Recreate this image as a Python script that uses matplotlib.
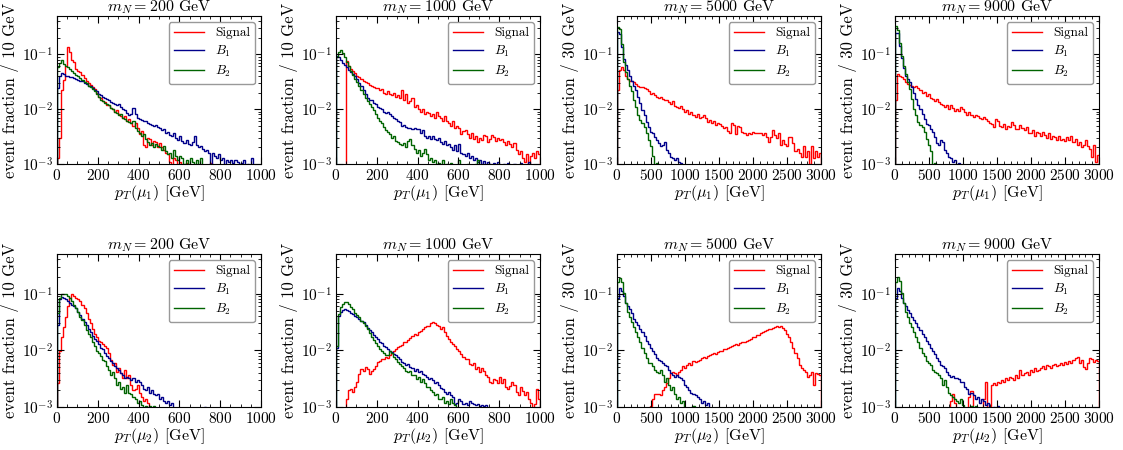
import numpy as np
import matplotlib.pyplot as plt
from matplotlib.ticker import AutoMinorLocator

# values are event fractions in units of 1e-3, one entry per bin
# (10 GeV bins for m_N = 200/1000, 30 GeV bins for m_N = 5000/9000)

# ---- leading muon pT ----
sig_pt1_200 = [1.3, 3, 22, 34, 60, 136, 110, 78, 73, 55,
               50, 48, 42, 37, 32, 30, 28, 25, 23, 20,
               17, 16, 14, 13.5, 12, 12, 10.5, 10, 9, 9.5,
               8, 7.5, 7, 7.5, 6, 6.5, 5.5, 5, 5.5, 4.5,
               3.5, 4, 2.2, 2.0, 3, 2.8, 2.2, 2.6, 2.5, 2.0,
               2.4, 2.0, 1.8, 1.6, 1.5, 1.1, 0.9, 1.3, 1.2, 0.8,
               1.1, 0.9, 0.8, 1.05, 0.7, 0.8, 0.6, 0.7, 0.5, 0.6,
               0.5, 0.6, 0.4, 0.5, 0.6, 1.05, 0.5, 0.4, 0.5, 0.3]
b1_pt1_200 = [24, 40, 45, 43, 41, 40, 39, 38, 37, 35,
              34, 33, 32, 30, 29, 27, 26, 24, 22, 21,
              19, 18, 17, 16, 15.5, 14.5, 13.5, 13, 12.5, 12,
              12.5, 11, 10, 9.5, 8.5, 7.8, 8, 10.5, 8, 7,
              6.5, 6.3, 6.2, 6, 5.7, 5.4, 5.2, 5.0, 5.1, 4.8,
              4.5, 4.2, 4.4, 3.6, 3.9, 3.4, 3.3, 3.6, 3.0, 2.7,
              3.2, 2.6, 2.4, 2.7, 2.3, 2.2, 2.5, 3.3, 2.2, 2.0,
              2.1, 1.9, 1.7, 1.8, 1.6, 0.9, 1.6, 1.4, 1.3, 1.5,
              1.2, 1.3, 0.9, 1.2, 1.1, 1.2, 1.05, 1.2, 1.1, 1.0,
              1.05, 1.2, 0.9, 1.0, 0.9, 1.3, 0.8]
b2_pt1_200 = [59, 70, 78, 68, 62, 58, 55, 50, 46, 42,
              40, 37, 34, 31, 30, 27, 25, 23, 21, 19,
              16.5, 15, 14, 13, 12.5, 12, 10.5, 10, 9, 8.5,
              7.8, 8, 7, 6.5, 6, 5.8, 5.5, 6, 4.5, 4,
              3.6, 3.2, 3.5, 2.8, 2.5, 2.2, 2.4, 2.0, 2.3, 2.1,
              2.0, 1.8, 2.1, 1.7, 1.5, 1.6, 1.3, 1.8, 1.4, 1.2,
              1.4, 1.3, 1.0, 1.2, 0.9, 1.3, 1.1, 0.9, 1.2, 0.9,
              1.3, 0.8]

sig_pt1_1000 = [0, 0, 0, 0, 0, 75, 62, 55, 50, 45,
                41, 38, 36, 33, 31, 30, 28, 26, 25, 24,
                24, 22, 23, 20, 19, 21, 19, 18, 20, 17,
                18, 16, 22, 15, 19, 13, 14, 16, 11, 12,
                10, 9, 10, 8, 9, 8.5, 7.5, 8, 7, 9,
                7.5, 7, 6, 7.5, 6, 5.5, 5, 6, 4.5, 5,
                4.5, 3.5, 4, 4.2, 3.5, 3, 3.6, 2.8, 3.2, 2.5,
                3, 2.7, 3.4, 3.3, 2.5, 2.8, 3.4, 3.1, 2.6, 3.0,
                2.7, 2.9, 2.5, 2.2, 2.6, 2.3, 2.0, 2.4, 1.8, 1.5,
                1.7, 1.3, 1.1, 1.5, 0.9, 1.4, 1.6, 1.3, 1.7, 1.5]
b1_pt1_1000 = [95, 90, 80, 70, 65, 58, 52, 47, 43, 40,
               35, 30, 26, 22, 19, 16, 15, 14.5, 13, 12.5,
               11, 10.5, 10, 9, 8.5, 8.8, 8, 7.5, 7, 6.5,
               6, 5.8, 5, 5.2, 4.8, 4.6, 4.5, 4.4, 4.5, 4.3,
               4.4, 3.7, 4.2, 3.3, 3, 3.2, 2.9, 3.3, 2.8, 2.7,
               3.0, 2.5, 2.3, 2.6, 2.2, 2.3, 2.0, 1.8, 2.2, 1.7,
               2.3, 1.6, 1.5, 1.4, 1.6, 1.3, 1.4, 1.2, 1.3, 1.1,
               1.2, 1.0, 1.15, 0.95, 1.1, 1.0, 0.9, 1.05, 0.9, 1.1,
               0.9, 0.8, 1.0, 0.8, 1.05, 0.9, 0.8, 1.0, 0.9, 0.85,
               1.05, 0.8, 0.9, 0.85, 1.1, 0.8]
b2_pt1_1000 = [90, 110, 120, 105, 90, 72, 60, 50, 42, 36,
               31, 26, 22, 19, 16, 14, 12.5, 11, 9.5, 8,
               7, 6, 5.5, 4.8, 4.2, 3.8, 3.5, 3.0, 3.2, 2.6,
               2.5, 2.3, 2.2, 2.4, 2.0, 2.6, 2.9, 2.2, 1.9, 1.6,
               1.8, 1.4, 1.6, 1.9, 1.5, 1.2, 1.3, 1.1, 1.2, 1.0,
               1.05, 0.9, 1.2, 0.9, 1.0, 0.85, 1.05, 0.9, 0.8, 0.9,
               1.2, 0.8, 0.9, 0.8, 1.0, 0.8, 0.85, 0.8, 1.0, 1.2,
               0.8]

sig_pt1_5000 = [22, 51, 59, 51, 41, 36, 33, 33, 31, 29,
                27, 25, 25, 24, 23, 21, 19.3, 19.8, 18, 16.7,
                16.3, 17, 15.6, 15, 14.5, 13.6, 12.3, 14.2, 11.3, 11,
                10.3, 11.3, 9.9, 8.9, 9.5, 8.3, 8.9, 7.8, 7.2, 8.3,
                6.8, 7.2, 7.8, 6.8, 5.9, 6.3, 5.5, 6.2, 5.1, 5.7,
                5.3, 4.9, 4.5, 4.8, 4.0, 3.7, 5.7, 5.1, 3.5, 5.0,
                4.8, 3.9, 3.6, 3.4, 3.7, 3.5, 3.9, 3.6, 3.6, 3.7,
                3.6, 3.4, 3.7, 3.1, 2.5, 3.1, 4.2, 3.4, 3.0, 3.6,
                2.2, 2.7, 2.3, 2.1, 3.1, 3.1, 2.4, 1.7, 1.85, 1.6,
                1.35, 2.1, 1.35, 1.7, 1.0, 2.1, 1.3, 1.7, 1.35, 1.6]
b1_pt1_5000 = [255, 238, 135, 83, 63, 51, 41, 33, 27, 22,
               16.7, 12.9, 9.6, 7.8, 5.9, 4.8, 3.9, 3.6, 3.1, 2.7,
               2.4, 2.1, 2.2, 2.5, 1.8, 1.6, 1.35, 1.27, 1.18, 1.27,
               1.1, 1.05, 0.8]
b2_pt1_5000 = [315, 290, 157, 73, 48, 36, 27, 21, 14.5, 11,
               7.8, 6.3, 5.5, 4.8, 3.6, 2.7, 2.1, 1.4, 0.8, 1.05,
               0.7]

sig_pt1_9000 = [15, 43, 40, 38, 35, 31, 29, 27.5, 26, 25,
                27, 24, 22, 20, 20.5, 17.7, 19, 15.8, 15.3, 14.3,
                15.3, 13.4, 12.5, 12, 10.9, 11.7, 10.2, 12, 10.5, 9.4,
                10.2, 9.2, 10.9, 10.2, 8.8, 7.9, 8.8, 7.7, 7.2, 7.7,
                7.5, 6.9, 6.5, 7.2, 6.7, 6.0, 5.6, 5.3, 4.7, 6.7,
                6.2, 5.0, 4.7, 5.3, 4.4, 5.0, 4.7, 5.8, 5.2, 4.4,
                4.3, 5.2, 4.5, 4.1, 4.7, 3.7, 3.6, 4.1, 3.3, 3.9,
                3.6, 3.2, 3.8, 3.4, 3.0, 3.7, 2.9, 3.3, 3.1, 2.7,
                3.3, 2.7, 2.9, 2.6, 3.1, 2.7, 3.3, 2.5, 2.9, 2.2,
                2.5, 2.0, 2.2, 2.7, 2.1, 1.9, 1.36, 2.2, 1.1, 1.45]
b1_pt1_9000 = [245, 245, 140, 87, 57, 40, 35, 31, 25, 20,
               15.5, 11.7, 10.2, 8.2, 6.7, 5.4, 5.1, 4.4, 3.8, 3.1,
               2.4, 2.2, 2.7, 2.5, 1.8, 1.6, 1.35, 1.27, 1.1, 1.18,
               0.8, 1.05, 0.8]
b2_pt1_9000 = [330, 280, 162, 93, 62, 44, 31, 23.5, 15.5, 10.2,
               7.7, 5.8, 5.1, 4.7, 3.8, 2.9, 2.2, 1.7, 0.8, 1.05,
               0.7]

# ---- subleading muon pT ----
sig_pt2_200 = [2.6, 9.7, 17, 26, 39, 60, 85, 98, 90, 85,
               79, 73, 64, 55, 45, 36, 30, 24, 19.5, 17,
               14.7, 13.8, 12.8, 12, 11, 9, 6.8, 5.5, 6, 4.2,
               4.8, 3.9, 3.2, 4.5, 3.2, 3.7, 2.4, 2.0, 2.1, 2.4,
               1.8, 1.5, 1.3, 1.4, 1.2, 0.9, 0.8, 0.7]
b1_pt2_200 = [28, 79, 88, 85, 79, 73, 68, 64, 60, 55,
              48, 42, 36, 32, 28, 24, 21, 18, 16, 14.7,
              12.8, 11, 10.5, 9, 7.9, 7.4, 6.4, 6, 5.2, 4.8,
              4.5, 3.9, 3.7, 3.2, 3.4, 3.2, 3.0, 3.2, 2.8, 3.0,
              2.8, 2.4, 2.1, 2.0, 2.25, 1.8, 2.0, 1.7, 1.6, 1.7,
              1.4, 1.5, 1.3, 1.2, 1.3, 1.1, 1.2, 0.9, 0.9, 0.8,
              0.7, 0.8, 0.7, 0.6, 0.7, 0.6, 0.5, 0.6, 0.5, 0.6,
              0.5, 0.6, 1.02, 0.5]
b2_pt2_200 = [45, 85, 98, 100, 98, 90, 85, 73, 64, 55,
              48, 39, 34, 28, 22.5, 19.5, 17, 13.8, 12, 9.7,
              9, 7.9, 6.8, 6.4, 5.2, 4.5, 3.7, 4.2, 3.2, 2.4,
              2.8, 2.1, 2.25, 1.8, 2.4, 1.8, 1.7, 1.5, 1.4, 1.2,
              1.3, 1.1, 0.9, 1.05, 0.8, 1.05, 0.8, 1.05, 0.7]

sig_pt2_1000 = [0, 0, 0, 0, 0, 1.4, 2.0, 2.1, 1.85, 2.25,
                2.75, 3.85, 4.7, 4.4, 5.0, 4.7, 3.85, 4.4, 4.7, 5.2,
                6.1, 6.6, 7.0, 6.9, 7.5, 7.2, 8.1, 9.0, 9.9, 10.6,
                11.3, 12.1, 12.3, 14.2, 13.8, 15.4, 16.2, 18.1, 19.4, 18.8,
                20.7, 22, 23.6, 25.3, 26.4, 27, 30, 31, 30, 28,
                27, 23.6, 25.3, 20.7, 18.1, 15.8, 14.2, 12.9, 12.1, 10.6,
                9.9, 8.6, 7.5, 7.0, 6.9, 5.8, 5.4, 6.0, 4.7, 5.0,
                4.1, 4.8, 4.4, 3.6, 3.35, 2.75, 2.6, 3.1, 3.0, 2.6,
                3.35, 2.6, 3.1, 2.25, 2.1, 2.35, 2.75, 2.4, 1.85, 1.6,
                2.25, 1.95, 1.6, 1.85, 1.4, 1.2, 0.9, 1.15, 2.1, 1.4]
b1_pt2_1000 = [11, 40, 48, 52, 53, 52, 49, 46, 43, 40,
               38, 35, 33, 31, 28, 25, 23, 21, 19, 17,
               15.8, 14.2, 13.4, 12.1, 11.3, 10.6, 9.9, 9.2, 8.6, 8.1,
               7.5, 6.9, 6.3, 6.0, 5.5, 5.7, 5.0, 4.9, 4.4, 4.7,
               4.1, 4.4, 3.85, 3.6, 3.35, 3.1, 3.2, 3.05, 2.6, 2.75,
               2.4, 2.15, 2.1, 1.85, 1.7, 1.85, 1.6, 1.5, 1.15, 1.2,
               1.4, 1.3, 1.15, 1.2, 1.07, 1.3, 1.2, 1.15, 1.1, 1.15,
               1.05, 1.1, 1.05, 1.07, 0.9, 0.8]
b2_pt2_1000 = [12, 43, 57, 65, 70, 71, 65, 59, 53, 46,
               42, 38, 33, 30, 26.5, 23.6, 20, 17, 15.4, 13.4,
               11.8, 10.6, 9.9, 9.0, 8.3, 8.1, 9.9, 9.0, 7.5, 6.9,
               6.3, 5.8, 5.2, 4.8, 4.4, 4.1, 4.4, 3.6, 3.7, 3.1,
               3.35, 2.75, 3.1, 2.6, 2.25, 2.25, 1.96, 1.85, 1.6, 1.7,
               1.4, 1.37, 1.5, 1.2, 1.3, 1.15, 1.4, 1.2, 1.07, 0.8]

sig_pt2_5000 = [0, 0, 0, 0, 0, 0, 0, 0, 0, 0,
                0, 0, 0, 0, 0, 0.8, 1.05, 1.4, 1.7, 1.7,
                1.7, 1.65, 2.0, 2.25, 2.6, 3.2, 3.9, 4.2, 3.9, 3.7,
                4.2, 4.5, 5.2, 4.8, 5.6, 6.0, 5.6, 6.4, 6.2, 6.6,
                6.8, 7.4, 7.6, 7.4, 7.9, 8.2, 8.5, 9.0, 8.7, 9.4,
                9.7, 9.9, 10.4, 10.7, 11, 11.4, 12, 12.4, 12.8, 12.4,
                13.2, 13.8, 14.2, 14.7, 15.2, 15.8, 17, 17.5, 19, 18.4,
                20, 21, 21.7, 22.5, 23.6, 24, 24.6, 26, 26.6, 26,
                26.5, 25.2, 22.5, 19.5, 17, 13.8, 11, 9, 7.4, 5.6,
                4.8, 4.5, 4.2, 3.4, 3.7, 4.2, 2.4, 4.0, 3.8, 3.7]
b1_pt2_5000 = [85, 128, 111, 90, 68, 60, 53, 45, 36, 32,
               28, 24, 21, 18, 14.7, 12.8, 11, 9.7, 8.5, 7.4,
               6.8, 6.4, 6, 5.6, 5.2, 4.5, 3.9, 3.7, 3.4, 3.7,
               3.4, 3.2, 3.0, 2.4, 2.25, 2.0, 1.8, 1.7, 1.6, 1.5,
               1.4, 1.2, 1.3, 1.1, 1.2, 0.9, 0.85]
b2_pt2_5000 = [158, 187, 158, 104, 68, 48, 39, 32, 26, 21,
               17, 13.8, 11, 9, 7.4, 6.0, 6.0, 5.2, 4.5, 4.2,
               3.9, 4.5, 3.7, 2.8, 3.2, 2.4, 2.0, 2.25, 1.7, 1.4,
               1.5, 1.2, 1.3, 0.9, 0.9, 0.8, 0.8, 1.05, 0.7]

sig_pt2_9000 = [0, 0, 0, 0, 0, 0, 0, 0, 0, 0,
                0, 0, 0, 0, 0, 0, 0, 0, 0, 0,
                0, 0, 0, 0, 0, 0, 0.7, 1.3, 1.7, 1.2,
                0.8, 0.7, 0.6, 0.8, 0.7, 0.8, 1.5, 1.9, 0.8, 0.7,
                0.6, 0.7, 0.8, 1.4, 2.8, 0.9, 0.9, 2.4, 2.6, 2.4,
                2.8, 2.7, 3.0, 2.8, 3.2, 3.0, 3.4, 3.2, 3.0, 3.7,
                3.2, 4.5, 3.7, 3.9, 4.2, 3.7, 4.5, 4.2, 4.8, 4.3,
                4.5, 4.8, 5.2, 4.7, 5.6, 5.2, 4.8, 5.4, 5.7, 5.2,
                5.6, 6.0, 5.4, 6.2, 5.7, 6.4, 6.0, 6.8, 7.4, 7.6,
                6.0, 6.8, 5.0, 4.6, 6.0, 7.4, 7.0, 6.2, 6.8, 6.4]
b1_pt2_9000 = [85, 128, 111, 85, 68, 60, 52, 45, 39, 34,
               30, 26, 22.5, 19.5, 17, 14.7, 12.8, 11, 9.7, 8.5,
               7.4, 6.4, 5.6, 5.2, 4.8, 4.2, 3.7, 3.4, 3.5, 3.3,
               3.2, 3.1, 2.8, 2.8, 2.25, 2.1, 1.7, 1.8, 1.6, 1.4,
               1.5, 1.2, 1.4, 1.3, 1.1, 1.2, 0.95, 0.9, 1.02, 0.8,
               1.05, 0.7]
b2_pt2_9000 = [158, 195, 170, 104, 68, 48, 39, 30, 26, 21,
               17, 13.8, 11, 9, 7.9, 6.4, 6.0, 5.6, 4.5, 4.2,
               3.9, 3.7, 3.2, 2.4, 3.0, 2.25, 1.8, 1.6, 1.5, 1.4,
               1.3, 1.2, 1.4, 1.1, 0.9, 0.85, 0.9, 1.05, 0.8, 1.05,
               0.7]

masses = [200, 1000, 5000, 9000]
x_max = [1000, 1000, 3000, 3000]
bin_width = [10, 10, 30, 30]
xticks = [[0, 200, 400, 600, 800, 1000], [0, 200, 400, 600, 800, 1000],
          [0, 500, 1000, 1500, 2000, 2500, 3000],
          [0, 500, 1000, 1500, 2000, 2500, 3000]]

rows = [
    [(sig_pt1_200, b1_pt1_200, b2_pt1_200), (sig_pt1_1000, b1_pt1_1000, b2_pt1_1000),
     (sig_pt1_5000, b1_pt1_5000, b2_pt1_5000), (sig_pt1_9000, b1_pt1_9000, b2_pt1_9000)],
    [(sig_pt2_200, b1_pt2_200, b2_pt2_200), (sig_pt2_1000, b1_pt2_1000, b2_pt2_1000),
     (sig_pt2_5000, b1_pt2_5000, b2_pt2_5000), (sig_pt2_9000, b1_pt2_9000, b2_pt2_9000)],
]
xlabels = [r"$p_T(\mu_1)$ [GeV]", r"$p_T(\mu_2)$ [GeV]"]
labels = ["Signal", r"$B_1$", r"$B_2$"]
colors = ["red", "#00008b", "#006400"]

plt.rcParams.update({
    "font.family": "cmr10",
    "mathtext.fontset": "cm",
    "axes.formatter.use_mathtext": True,
    "xtick.direction": "in",
    "ytick.direction": "in",
    "xtick.top": True,
    "ytick.right": True,
})

fig = plt.figure(figsize=(11.23, 4.5), dpi=100)
W, H = 1123.0, 450.0
lefts = [57, 336, 617, 895]
row_y = [(16, 164), (254, 407)]

for r in range(2):
    top, bottom = row_y[r]
    for c in range(4):
        ax = fig.add_axes([lefts[c] / W, 1 - bottom / H, 204 / W, (bottom - top) / H])
        for vals, col, lab in zip(rows[r][c], colors, labels):
            v = np.clip(np.array(vals, dtype=float) * 1e-3, 1e-7, None)
            edges = np.arange(len(v) + 1) * bin_width[c]
            ax.stairs(v, edges, baseline=1e-7, color=col, lw=1.0, label=lab)
        ax.set_yscale("log")
        ax.set_ylim(1e-3, 0.5)
        ax.set_xlim(0, x_max[c])
        ax.set_xticks(xticks[c])
        ax.xaxis.set_minor_locator(AutoMinorLocator())
        ax.tick_params(axis="both", which="major", labelsize=11, length=5, pad=3)
        ax.tick_params(axis="both", which="minor", length=2.5)
        ax.set_title(r"$m_N = %d$ GeV" % masses[c], fontsize=11.5, pad=1.5)
        ax.set_xlabel(xlabels[r], fontsize=11.5, labelpad=0)
        ax.set_ylabel("event fraction / %d GeV" % bin_width[c], fontsize=12, labelpad=2)
        leg = ax.legend(loc="upper right", fontsize=9.5, handlelength=2.3,
                        handletextpad=0.8, labelspacing=0.35, borderpad=0.4,
                        borderaxespad=0.45, fancybox=True, framealpha=1)
        leg.get_frame().set_edgecolor("0.6")

fig.savefig("out.png", dpi=100)
